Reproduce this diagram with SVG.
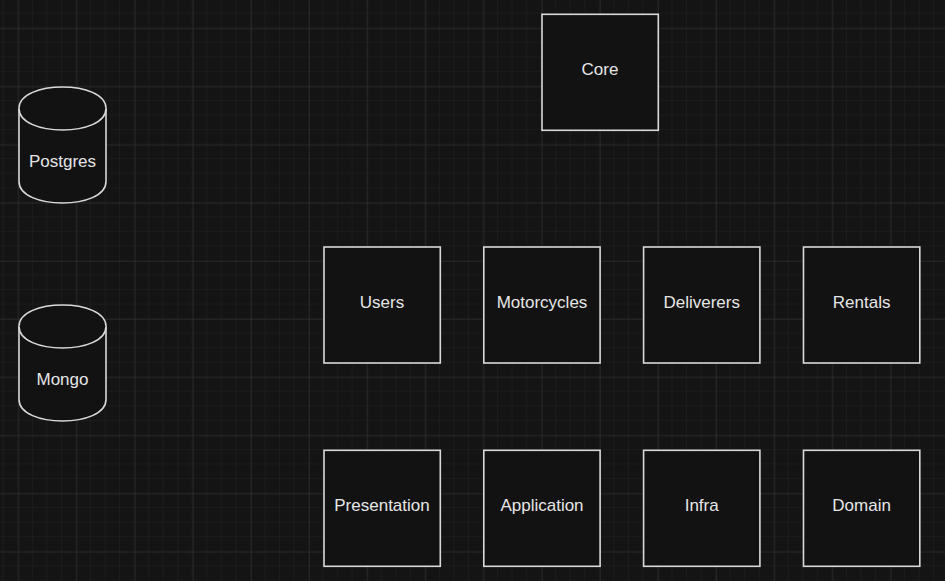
<svg xmlns="http://www.w3.org/2000/svg" width="945" height="581" viewBox="0 0 945 581">
<style>
.box{fill:#121212;stroke:#d9d9d9;stroke-width:1.6}
.cyl{fill:#121212;stroke:#d9d9d9;stroke-width:1.6}
.lbl{font-family:"Liberation Sans",Arial,sans-serif;font-size:17px;fill:#e6e6e6;text-anchor:middle}
</style>
<defs>
<pattern id="minor" patternUnits="userSpaceOnUse" x="3.76" y="13.76" width="14.5375" height="14.5375">
<path d="M14.5375,0 V14.5375 M0,14.5375 H14.5375" fill="none" stroke="#222222" stroke-width="1"/>
</pattern>
<pattern id="major" patternUnits="userSpaceOnUse" x="18.3" y="28.3" width="58.15" height="58.15">
<path d="M0,0 V58.15 M0,0 H58.15" fill="none" stroke="#363636" stroke-width="1"/>
</pattern>
</defs>
<rect width="945" height="581" fill="#141414"/>
<rect width="945" height="581" fill="url(#minor)"/>
<rect width="945" height="581" fill="url(#major)"/>
<g id="connectors"></g>
<g id="postgres">
<path class="cyl" d="M19,108.5 C19,79.83 106,79.83 106,108.5 L106,181.5 C106,210.17 19,210.17 19,181.5 Z"/>
<path class="cyl" fill="none" d="M19,108.5 C19,137.17 106,137.17 106,108.5"/>
<text class="lbl" x="62.5" y="166.5">Postgres</text>
</g>
<g id="mongo">
<path class="cyl" d="M19,326.5 C19,297.83 106,297.83 106,326.5 L106,399.5 C106,428.17 19,428.17 19,399.5 Z"/>
<path class="cyl" fill="none" d="M19,326.5 C19,355.17 106,355.17 106,326.5"/>
<text class="lbl" x="62.5" y="384.5">Mongo</text>
</g>
<g id="core">
<rect class="box" x="542" y="14.3" width="116.3" height="116"/>
<text class="lbl" x="600" y="74.7">Core</text>
</g>
<g id="users">
<rect class="box" x="324" y="247" width="116.3" height="116"/>
<text class="lbl" x="382" y="307.5">Users</text>
</g>
<g id="motorcycles">
<rect class="box" x="483.8" y="247" width="116.3" height="116"/>
<text class="lbl" x="542" y="307.5">Motorcycles</text>
</g>
<g id="deliverers">
<rect class="box" x="643.6" y="247" width="116.3" height="116"/>
<text class="lbl" x="701.7" y="307.5">Deliverers</text>
</g>
<g id="rentals">
<rect class="box" x="803.5" y="247" width="116.3" height="116"/>
<text class="lbl" x="861.6" y="307.5">Rentals</text>
</g>
<g id="presentation">
<rect class="box" x="324" y="450.3" width="116.3" height="116"/>
<text class="lbl" x="382" y="510.8">Presentation</text>
</g>
<g id="application">
<rect class="box" x="483.8" y="450.3" width="116.3" height="116"/>
<text class="lbl" x="542" y="510.8">Application</text>
</g>
<g id="infra">
<rect class="box" x="643.6" y="450.3" width="116.3" height="116"/>
<text class="lbl" x="701.7" y="510.8">Infra</text>
</g>
<g id="domain">
<rect class="box" x="803.5" y="450.3" width="116.3" height="116"/>
<text class="lbl" x="861.6" y="510.8">Domain</text>
</g>
</svg>
